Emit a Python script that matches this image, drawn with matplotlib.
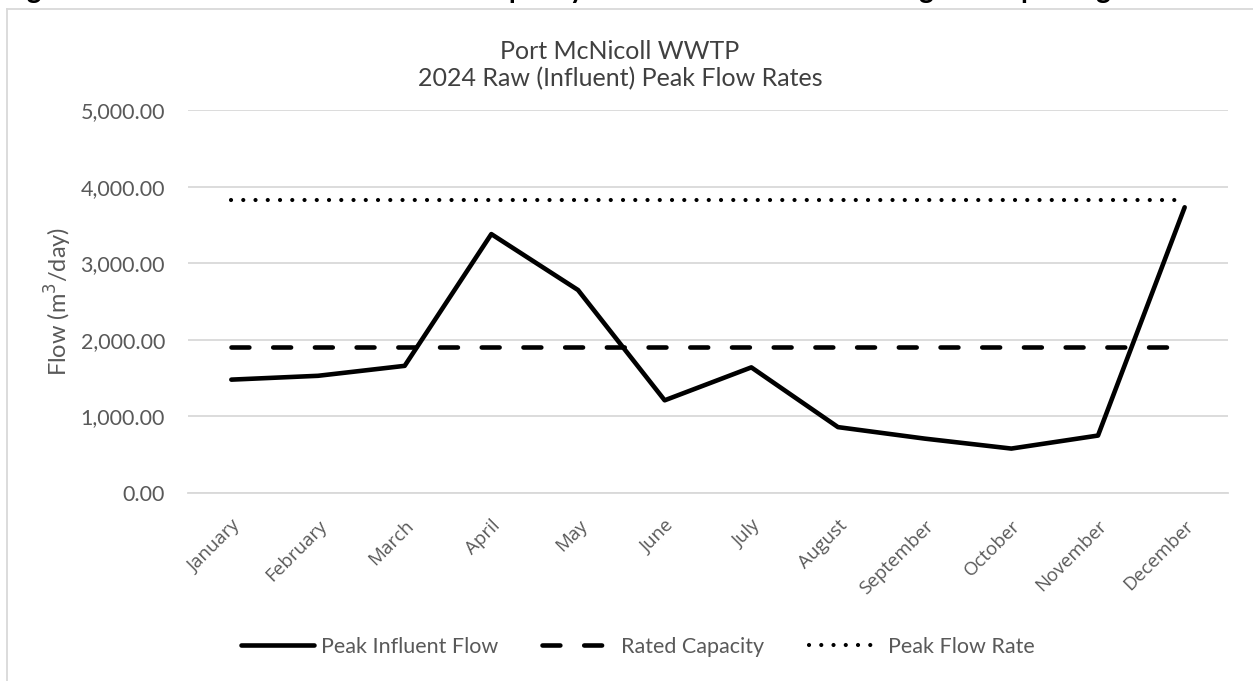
"""
Port McNicoll WWTP - 2024 raw (influent) peak flow rates
"""

import numpy as np
import matplotlib
matplotlib.use('Agg')
import matplotlib.pyplot as plt
from matplotlib.lines import Line2D
from matplotlib.ticker import FuncFormatter

# data
months = ['January', 'February', 'March', 'April', 'May', 'June', 'July',
          'August', 'September', 'October', 'November', 'December']
peak_influent = [1480, 1530, 1660, 3380, 2650, 1210, 1640, 860, 710, 580, 750, 3730]
rated_capacity = [1910] * 12
peak_flow_rate = [3830] * 12

title = 'Port McNicoll WWTP\n2024 Raw (Influent) Peak Flow Rates'
caption = 'Figure 4: Port McNicoll WWTP Rated Capacity and Peak Flow Rates during the Reporting Period'

W, H = 1253, 681
grey = '#595959'
grid_c = '#d9d9d9'

plt.close('all')
fig = plt.figure(figsize=(W / 100, H / 100), dpi=100)
ax = fig.add_axes([188 / W, 1 - 493 / H, 1040 / W, 383 / H])

x = np.arange(len(months))

# chart border (left and top only show in the crop)
fig.add_artist(Line2D([7 / W, 7 / W], [0, 1 - 9 / H], color=grid_c, lw=1.3))
fig.add_artist(Line2D([7 / W, 1.01], [1 - 9 / H, 1 - 9 / H], color=grid_c, lw=1.3))

# caption above the chart, cut off by the top edge like in the source
fig.text(4 / W, 1 + 2 / H, caption, fontsize=20, fontweight='bold',
         family='Lato', va='baseline', ha='left', color='black')

ax.plot(x, peak_influent, color='black', lw=3.3, solid_joinstyle='round',
        solid_capstyle='round', label='Peak Influent Flow', zorder=3)
ax.plot(x, rated_capacity, color='black', lw=3.3, dashes=(3.9, 5.2),
        dash_capstyle='round', label='Rated Capacity', zorder=3)
ax.plot(x, peak_flow_rate, color='black', lw=3.0, dashes=(0.01, 2.93),
        dash_capstyle='round', label='Peak Flow Rate', zorder=3)

ax.set_xlim(-0.5, 11.5)
ax.set_ylim(0, 5000)
ax.set_yticks(np.arange(0, 5001, 1000))
ax.yaxis.set_major_formatter(FuncFormatter(lambda v, p: f'{v:,.2f}'))
ax.grid(axis='y', color=grid_c, lw=1.3)
ax.set_axisbelow(True)
for s in ax.spines.values():
    s.set_visible(False)
ax.spines['bottom'].set_visible(True)
ax.spines['bottom'].set_color(grid_c)
ax.spines['bottom'].set_linewidth(1.3)

ax.tick_params(axis='both', length=0, colors=grey)
ax.tick_params(axis='y', pad=16.5)
for t in ax.get_yticklabels():
    t.set_family('Lato')
    t.set_fontsize(15.5)

ax.set_xticks(x)
ax.set_xticklabels(months, rotation=45, ha='right', va='top',
                   rotation_mode='anchor', family='Open Sans', fontsize=13.5,
                   color=grey)
ax.tick_params(axis='x', pad=17)

ax.set_ylabel('Flow (m$^3$/day)', fontsize=17, family='Lato', color=grey,
              labelpad=5)

fig.text(620 / W, 1 - 65 / H, title, ha='center', va='center', fontsize=18,
         family='Lato', color='#404040', linespacing=1.2)

leg = fig.legend(loc='center', bbox_to_anchor=(638 / W, 1 - 647 / H), ncol=3,
                 frameon=False, handlelength=3.35, columnspacing=2.05,
                 handletextpad=0.33, prop={'family': 'Lato', 'size': 15.5})
for t in leg.get_texts():
    t.set_color(grey)

fig.savefig('out.png', dpi=100)
